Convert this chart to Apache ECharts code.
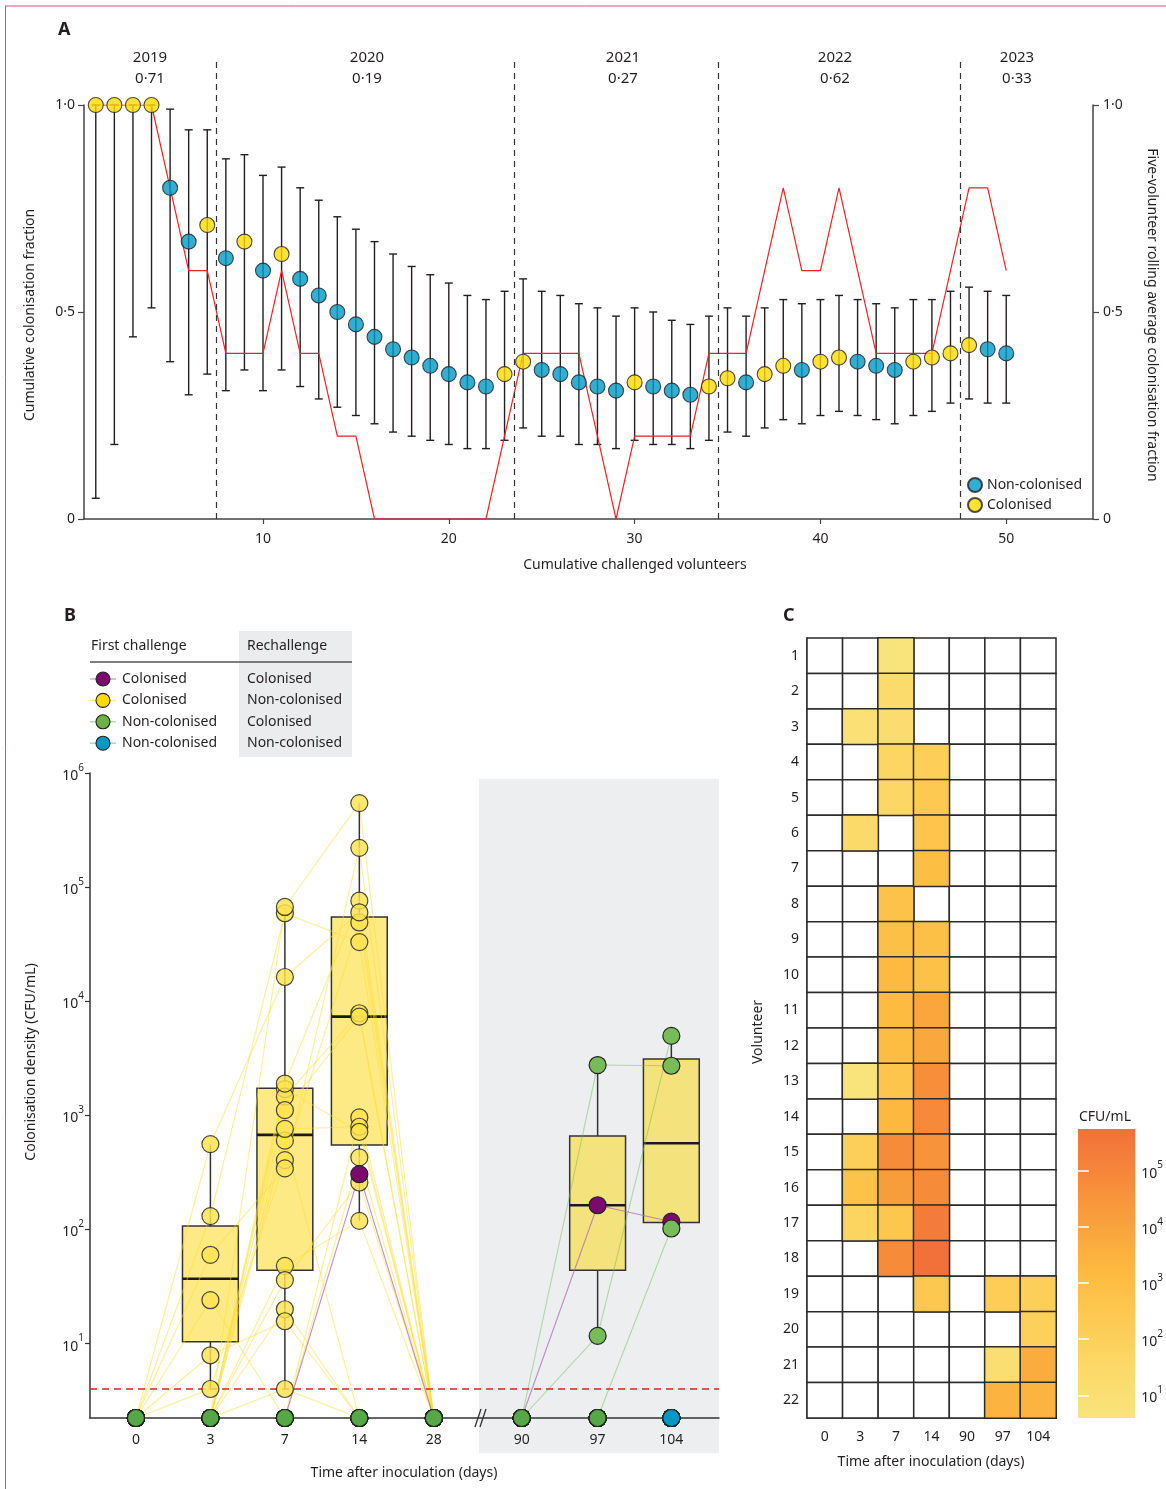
<!DOCTYPE html>
<html><head><meta charset="utf-8">
<script src="https://cdn.jsdelivr.net/npm/echarts@6/dist/echarts.min.js"></script>
<style>html,body{margin:0;padding:0;background:#fff;}#c{width:1166px;height:1489px;}</style>
</head><body><div id="c"></div>
<script>
// ---------------- Panel A data ----------------
const volunteerNo = Array.from({length: 50}, (_, i) => i + 1);
const colonisedOutcome = [1,1,1,1,0,0,1,0,1,0, 1,0,0,0,0,0,0,0,0,0, 0,0,1,1,0,0,0,0,0,1, 0,0,0,1,1,0,1,1,0,1, 1,0,0,0,1,1,1,1,0,0];
const cumFraction = [1.00,1.00,1.00,1.00,0.80,0.67,0.71,0.63,0.67,0.60, 0.64,0.58,0.54,0.50,0.47,0.44,0.41,0.39,0.37,0.35, 0.33,0.32,0.35,0.38,0.36,0.35,0.33,0.32,0.31,0.33, 0.32,0.31,0.30,0.32,0.34,0.33,0.35,0.37,0.36,0.38, 0.39,0.38,0.37,0.36,0.38,0.39,0.40,0.42,0.41,0.40];
const ciLower = [0.05,0.18,0.44,0.51,0.38,0.30,0.35,0.31,0.36,0.31, 0.36,0.32,0.29,0.27,0.25,0.23,0.21,0.20,0.19,0.18, 0.17,0.17,0.19,0.22,0.20,0.20,0.18,0.18,0.17,0.19, 0.18,0.18,0.17,0.19,0.21,0.20,0.22,0.24,0.23,0.25, 0.26,0.25,0.24,0.23,0.25,0.26,0.28,0.29,0.28,0.28];
const ciUpper = [1.00,1.00,1.00,1.00,0.99,0.94,0.94,0.87,0.88,0.83, 0.85,0.80,0.77,0.73,0.70,0.67,0.64,0.61,0.59,0.57, 0.54,0.53,0.55,0.58,0.55,0.54,0.52,0.51,0.49,0.51, 0.50,0.48,0.47,0.49,0.51,0.49,0.51,0.53,0.52,0.53, 0.54,0.53,0.52,0.51,0.53,0.53,0.55,0.56,0.55,0.54];
const rollingFive = [1,1,1,1,0.8,0.6,0.6,0.4,0.4,0.4, 0.6,0.4,0.4,0.2,0.2,0,0,0,0,0, 0,0,0.2,0.4,0.4,0.4,0.4,0.2,0,0.2, 0.2,0.2,0.2,0.4,0.4,0.4,0.6,0.8,0.6,0.6, 0.8,0.6,0.4,0.4,0.4,0.4,0.6,0.8,0.8,0.6];
const yearNames = ['2019','2020','2021','2022','2023'];
const yearRates = ['0·71','0·19','0·27','0·62','0·33'];
const yearBoundaries = [7.5, 23.5, 34.5, 47.5];
const axisAXTicks = [10,20,30,40,50];
const axisAYTicks = [0,0.5,1];

// ---------------- Panel B / C data (CFU/mL, 0 = not detected), volunteers 1..22 ----------------
const allDays = ['0','3','7','14','28','90','97','104'];
const dayAxisPos = [0,1,2,3,4,5.18,6.2,7.19];
const cfuDay0  = [0,0,0,0,0,0,0,0,0,0,0,0,0,0,0,0,0,0,0,0,0,0];
const cfuDay3  = [0,0,7.9,0,0,24,0,0,0,0,0,0,4,0,131,560,60,0,0,0,0,0];
const cfuDay7  = [4,20,15.7,48,36,0,0,600,760,1700,1460,1110,405,1900,59000,16300,343,67000,0,0,0,0];
const cfuDay14 = [0,0,0,119,258,428,960,0,795,718,7850,7330,49000,76000,33000,60000,221000,545000,305,0,0,0];
const cfuDay28 = [0,0,0,0,0,0,0,0,0,0,0,0,0,0,0,0,0,0,0,0,0,0];
const cfuDay90 = [0,0,0,0,0,0,0,0,0,0,0,0,0,0,0,0,0,0,0,0,0,0];
const cfuDay97 = [0,0,0,0,0,0,0,0,0,0,0,0,0,0,0,0,0,0,163,0,11.7,2760];
const cfuDay104= [0,0,0,0,0,0,0,0,0,0,0,0,0,0,0,0,0,0,117,102,4970,2720];
const volunteerGroup = ['CN','CN','CN','CN','CN','CN','CN','CN','CN','CN','CN','CN','CN','CN','CN','CN','CN','CN','CC','NC','NC','NC'];
const bothNonColonisedCFU = [0,0,0,0,0,0,0,0];
const boxDays   = ['3','7','14','97','104'];
const boxLow    = [4, 4, 119, 11.7, 102];
const boxQ1     = [10.4, 44, 550, 44, 115];
const boxMedian = [37, 675, 7330, 163, 570];
const boxQ3     = [107, 1725, 54600, 660, 3120];
const boxHigh   = [560, 67000, 545000, 2760, 4970];
const detectionLimit = 4;
const axisBYTicks = [1,2,3,4,5,6];
const heatDays = ['0','3','7','14','90','97','104'];
const heatVolunteers = Array.from({length: 22}, (_, i) => String(i + 1));
const colourbarTicks = [1,2,3,4,5];

// ---------------- styling ----------------
const FONT = "'Noto Sans', 'DejaVu Sans', sans-serif";
const TXT = '#231f20';
const BLUE = '#0098c4', YELLOW = '#ffdb00', RED = '#ec2227';
const C_CN = '#fde34f', C_CC = '#7c0a6e', C_NC = '#78bc58', C_NN = '#0098c4', C_NC0 = '#55a845';
const LINE_COL = {CN: 'rgba(253,222,50,0.5)', CC: 'rgba(170,110,180,0.75)', NC: 'rgba(120,190,90,0.5)'};
const heatColors = ['#f9e47c','#fcd968','#fdcb53','#fdbb40','#f9a23c','#f6893a','#f2703a'];
const LOGMIN = 0.596, LOGMAX = 5.74;
const ZERO_LOG = 0.348;
const B_XMIN = -0.617, B_XMAX = 7.83;
const toLog = v => v > 0 ? Math.log10(v) : ZERO_LOG;
const supRich = {
  b: {fontSize: 14, color: TXT, fontFamily: FONT, lineHeight: 20, verticalAlign: 'bottom'},
  s: {fontSize: 10, color: TXT, fontFamily: FONT, lineHeight: 20, verticalAlign: 'top'}
};
const powFmt = v => '{b|10}{s|' + Math.round(v) + '}';
const decFmt = v => v === 0 ? '0' : v.toFixed(1).replace('.', '·');

// ---------------- derived series data ----------------
const cfuByDay = [cfuDay0, cfuDay3, cfuDay7, cfuDay14, cfuDay28, cfuDay90, cfuDay97, cfuDay104];
const ptsA_non = [], ptsA_col = [], errA = [], rollA = [];
volunteerNo.forEach((n, i) => {
  (colonisedOutcome[i] ? ptsA_col : ptsA_non).push([n, cumFraction[i]]);
  errA.push([n, ciLower[i], ciUpper[i]]);
  rollA.push([n, rollingFive[i]]);
});

const nonZero = {CN: [], CC: [], NC: []};
const zeros = {CN: [], CC: [], NN: [], NC: []};
const segments = [];
for (let v = 0; v < 22; v++) {
  const g = volunteerGroup[v];
  for (let d = 0; d < allDays.length; d++) {
    const val = cfuByDay[d][v];
    const pt = [dayAxisPos[d], toLog(val)];
    if (val > 0) nonZero[g].push(pt); else zeros[g].push(pt);
    const sameBlock = (d < 4) || (d >= 5 && d < 7);
    if (sameBlock) {
      const nv = cfuByDay[d + 1][v];
      if (val > 0 || nv > 0) segments.push([dayAxisPos[d], toLog(val), dayAxisPos[d + 1], toLog(nv), g]);
    }
  }
}
bothNonColonisedCFU.forEach((val, d) => zeros.NN.push([dayAxisPos[d], toLog(val)]));

const boxData = boxDays.map((d, i) => [dayAxisPos[allDays.indexOf(d)], toLog(boxLow[i]), toLog(boxQ1[i]), toLog(boxMedian[i]), toLog(boxQ3[i]), toLog(boxHigh[i]), Number(d) > 28 ? 1 : 0]);
const lodLine = [[B_XMIN, Math.log10(detectionLimit)], [B_XMAX, Math.log10(detectionLimit)]];

const heatCols = [cfuDay0, cfuDay3, cfuDay7, cfuDay14, cfuDay90, cfuDay97, cfuDay104];
const heatData = [], cellData = [];
heatCols.forEach((col, x) => col.forEach((val, y) => {
  cellData.push([x, y]);
  if (val > 0) heatData.push([x, y, Math.log10(val)]);
}));

// ---------------- render helpers ----------------
function renderErr(params, api) {
  const x = api.value(0);
  const lo = api.coord([x, api.value(1)]);
  const hi = api.coord([x, api.value(2)]);
  const st = {stroke: '#231f20', lineWidth: 1.4};
  return {type: 'group', children: [
    {type: 'line', shape: {x1: lo[0], y1: lo[1], x2: hi[0], y2: hi[1]}, style: st},
    {type: 'line', shape: {x1: lo[0] - 4, y1: lo[1], x2: lo[0] + 4, y2: lo[1]}, style: st},
    {type: 'line', shape: {x1: hi[0] - 4, y1: hi[1], x2: hi[0] + 4, y2: hi[1]}, style: st}
  ]};
}
function renderBox(params, api) {
  const x = api.value(0);
  const pLow = api.coord([x, api.value(1)]);
  const pQ1 = api.coord([x, api.value(2)]);
  const pMed = api.coord([x, api.value(3)]);
  const pQ3 = api.coord([x, api.value(4)]);
  const pHigh = api.coord([x, api.value(5)]);
  const w = api.size([0.75, 0])[0];
  const fill = api.value(6) ? '#f4e27c' : 'rgba(254,230,110,0.85)';
  const st = {stroke: '#333', lineWidth: 1.5};
  return {type: 'group', children: [
    {type: 'line', shape: {x1: pLow[0], y1: pLow[1], x2: pQ1[0], y2: pQ1[1]}, style: st},
    {type: 'line', shape: {x1: pQ3[0], y1: pQ3[1], x2: pHigh[0], y2: pHigh[1]}, style: st},
    {type: 'rect', shape: {x: pQ1[0] - w / 2, y: pQ3[1], width: w, height: pQ1[1] - pQ3[1]}, style: {fill: fill, stroke: '#333', lineWidth: 1.5}},
    {type: 'line', shape: {x1: pMed[0] - w / 2, y1: pMed[1], x2: pMed[0] + w / 2, y2: pMed[1]}, style: {stroke: '#1a1a1a', lineWidth: 2.6}}
  ]};
}
function renderSeg(params, api) {
  const a = api.coord([api.value(0), api.value(1)]);
  const b = api.coord([api.value(2), api.value(3)]);
  const g = segments[params.dataIndex][4];
  return {type: 'line', shape: {x1: a[0], y1: a[1], x2: b[0], y2: b[1]}, style: {stroke: LINE_COL[g], lineWidth: 1.1}};
}
function renderCell(params, api) {
  const c = api.coord([api.value(0), api.value(1)]);
  const s = api.size([1, 1]);
  return {type: 'rect', shape: {x: c[0] - s[0] / 2, y: c[1] - s[1] / 2, width: s[0], height: s[1]},
          style: {fill: '#ffffff', stroke: '#2b2b2b', lineWidth: 1.5}};
}

const ptStyleA = c => ({color: c, borderColor: '#231f20', borderWidth: 1.1});
const ptStyleB = (c, op) => ({color: c, opacity: op, borderColor: '#222', borderWidth: 1.2});
const axisTxt = {color: TXT, fontSize: 14, fontFamily: FONT};

// ---------------- option ----------------
const option = {
  animation: false,
  backgroundColor: '#fff',
  textStyle: {fontFamily: FONT},
  grid: [
    {left: 84, right: 73, top: 105, bottom: 970},
    {left: 84, right: 73, top: 57, bottom: 970},
    {left: 90, right: 447, top: 773, bottom: 71},
    {left: 807, right: 110, top: 638, bottom: 71},
    {left: 1078, width: 58, top: 1129, height: 289, show: true, borderWidth: 0,
     backgroundColor: new echarts.graphic.LinearGradient(0, 0, 0, 1, heatColors.slice().reverse().map((c, i, arr) => ({offset: i / (arr.length - 1), color: c})))}
  ],
  xAxis: [
    {gridIndex: 0, type: 'value', min: 0.366, max: 54.67, splitLine: {show: false},
     axisLine: {lineStyle: {color: '#444', width: 1.5}},
     axisTick: {customValues: axisAXTicks, length: 5, lineStyle: {color: '#444', width: 1.2}},
     axisLabel: {customValues: axisAXTicks, margin: 13, ...axisTxt}},
    {gridIndex: 1, type: 'value', min: 0.366, max: 54.67, show: false},
    {gridIndex: 2, type: 'value', min: B_XMIN, max: B_XMAX, splitLine: {show: false},
     axisLine: {onZero: false, lineStyle: {color: '#333', width: 1.5}}, axisTick: {show: false},
     axisLabel: {customValues: dayAxisPos, margin: 15, ...axisTxt,
       formatter: v => allDays[dayAxisPos.findIndex(p => Math.abs(p - v) < 0.01)]}},
    {gridIndex: 3, type: 'category', data: heatDays, axisLine: {lineStyle: {color: '#333', width: 1.5}},
     axisTick: {alignWithLabel: true, length: 5, lineStyle: {color: '#333', width: 1.2}},
     axisLabel: {margin: 12, ...axisTxt}},
    {gridIndex: 4, type: 'value', min: 0, max: 1, show: false}
  ],
  yAxis: [
    {gridIndex: 0, type: 'value', min: 0, max: 1, splitLine: {show: false},
     axisLine: {show: true, onZero: false, lineStyle: {color: '#444', width: 1.5}},
     axisTick: {show: true, customValues: axisAYTicks, length: 6, lineStyle: {color: '#444', width: 1.2}},
     axisLabel: {customValues: axisAYTicks, formatter: decFmt, margin: 9, ...axisTxt}},
    {gridIndex: 0, type: 'value', position: 'right', min: 0, max: 1, splitLine: {show: false},
     axisLine: {show: true, onZero: false, lineStyle: {color: '#444', width: 1.5}},
     axisTick: {show: true, customValues: axisAYTicks, length: 6, lineStyle: {color: '#444', width: 1.2}},
     axisLabel: {customValues: axisAYTicks, formatter: decFmt, margin: 10, ...axisTxt}},
    {gridIndex: 1, type: 'value', min: 0, max: 1, show: false},
    {gridIndex: 2, type: 'value', min: ZERO_LOG, max: 6, splitLine: {show: false},
     axisLine: {show: true, onZero: false, lineStyle: {color: '#333', width: 1.5}},
     axisTick: {show: true, customValues: axisBYTicks, length: 5, lineStyle: {color: '#333', width: 1.2}},
     axisLabel: {customValues: axisBYTicks, formatter: powFmt, rich: supRich, margin: 6}},
    {gridIndex: 3, type: 'category', data: heatVolunteers, inverse: true,
     axisLine: {lineStyle: {color: '#333', width: 1.5}},
     axisTick: {alignWithLabel: true, length: 6, lineStyle: {color: '#333', width: 1.2}},
     axisLabel: {margin: 8, ...axisTxt}},
    {gridIndex: 4, type: 'value', position: 'right', min: LOGMIN, max: LOGMAX, splitLine: {show: false},
     axisLine: {show: false},
     axisTick: {show: true, inside: true, customValues: colourbarTicks, length: 11, lineStyle: {color: '#fff', width: 1.5}},
     axisLabel: {customValues: colourbarTicks, formatter: powFmt, rich: supRich, margin: 6}},
    {gridIndex: 4, type: 'value', position: 'left', min: LOGMIN, max: LOGMAX, splitLine: {show: false},
     axisLine: {show: false},
     axisTick: {show: true, inside: true, customValues: colourbarTicks, length: 11, lineStyle: {color: '#fff', width: 1.5}},
     axisLabel: {show: false}}
  ],
  visualMap: {show: false, type: 'continuous', seriesIndex: 16, dimension: 2, min: LOGMIN, max: LOGMAX,
    inRange: {color: heatColors}},
  legend: {data: ['Non-colonised', 'Colonised'], orient: 'vertical', left: 962, top: 472,
    itemWidth: 14, itemHeight: 14, itemGap: 4, icon: 'circle',
    textStyle: {color: TXT, fontSize: 14, fontFamily: FONT}},
  series: [
    // 0 panel A error bars
    {type: 'custom', xAxisIndex: 0, yAxisIndex: 0, renderItem: renderErr, data: errA, encode: {x: 0, y: [1, 2]}, z: 2, silent: true},
    // 1 rolling average
    {type: 'line', name: 'Rolling', xAxisIndex: 0, yAxisIndex: 1, data: rollA, showSymbol: false, symbol: 'none',
     lineStyle: {color: RED, width: 1.2}, z: 3, silent: true},
    // 2,3 points
    {type: 'scatter', name: 'Non-colonised', xAxisIndex: 0, yAxisIndex: 0, data: ptsA_non, symbolSize: 15, itemStyle: ptStyleA(BLUE), z: 4},
    {type: 'scatter', name: 'Colonised', xAxisIndex: 0, yAxisIndex: 0, data: ptsA_col, symbolSize: 15, itemStyle: ptStyleA(YELLOW), z: 4},
    // 4 year boundaries
    {type: 'line', xAxisIndex: 1, yAxisIndex: 2, data: [], silent: true,
     markLine: {silent: true, symbol: 'none', label: {show: false},
       lineStyle: {color: '#333', type: [6, 5], width: 1.2},
       data: yearBoundaries.map(x => ({xAxis: x}))}},
    // 5 panel B boxes
    {type: 'custom', xAxisIndex: 2, yAxisIndex: 3, renderItem: renderBox, data: boxData, encode: {x: 0, y: [1, 2, 3, 4, 5]}, z: 2, silent: true},
    // 6 connecting lines
    {type: 'custom', xAxisIndex: 2, yAxisIndex: 3, renderItem: renderSeg, data: segments.map(s => s.slice(0, 4)), encode: {x: [0, 2], y: [1, 3]}, z: 3, silent: true},
    // 7 detection limit
    {type: 'line', xAxisIndex: 2, yAxisIndex: 3, data: lodLine, silent: true, showSymbol: false, symbol: 'none',
     lineStyle: {color: '#e31e24', type: [7, 5], width: 1.4, opacity: 1}, z: 3},
    // 8-10 non-zero points
    {type: 'scatter', xAxisIndex: 2, yAxisIndex: 3, data: nonZero.CN, symbolSize: 17, itemStyle: ptStyleB(C_CN, 0.82), z: 4},
    {type: 'scatter', xAxisIndex: 2, yAxisIndex: 3, data: nonZero.CC, symbolSize: 17, itemStyle: ptStyleB(C_CC, 1), z: 5},
    {type: 'scatter', xAxisIndex: 2, yAxisIndex: 3, data: nonZero.NC, symbolSize: 17, itemStyle: ptStyleB(C_NC, 1), z: 5},
    // 11-14 zero points at baseline
    {type: 'scatter', xAxisIndex: 2, yAxisIndex: 3, data: zeros.CN, symbolSize: 17, clip: false, itemStyle: ptStyleB(C_CN, 1), z: 6},
    {type: 'scatter', xAxisIndex: 2, yAxisIndex: 3, data: zeros.CC, symbolSize: 17, clip: false, itemStyle: ptStyleB(C_CC, 1), z: 6},
    {type: 'scatter', xAxisIndex: 2, yAxisIndex: 3, data: zeros.NN, symbolSize: 17, clip: false, itemStyle: ptStyleB(C_NN, 1), z: 6},
    {type: 'scatter', xAxisIndex: 2, yAxisIndex: 3, data: zeros.NC, symbolSize: 17, clip: false, itemStyle: ptStyleB(C_NC0, 1), z: 6},
    // 15 heatmap empty cells
    {type: 'custom', xAxisIndex: 3, yAxisIndex: 4, renderItem: renderCell, data: cellData, z: 1, silent: true},
    // 16 heatmap coloured cells
    {type: 'heatmap', xAxisIndex: 3, yAxisIndex: 4, data: heatData, z: 2,
     itemStyle: {borderColor: '#2b2b2b', borderWidth: 1.5}, emphasis: {disabled: true}},
    // 17 colourbar placeholder
    {type: 'line', xAxisIndex: 4, yAxisIndex: 5, data: [], silent: true}
  ],
  graphic: [
    // panel B grey rechallenge area
    {type: 'rect', z: -1, shape: {x: 479, y: 779, width: 240, height: 674}, style: {fill: '#edeef0'}},
    // legend B
    {type: 'rect', z: -1, shape: {x: 239, y: 631, width: 113, height: 126}, style: {fill: '#ebecee'}},
    {type: 'text', x: 91, y: 646, style: {text: 'First challenge', fill: TXT, font: '14px ' + FONT, verticalAlign: 'middle'}},
    {type: 'text', x: 247, y: 646, style: {text: 'Rechallenge', fill: TXT, font: '14px ' + FONT, verticalAlign: 'middle'}},
    {type: 'line', shape: {x1: 90, y1: 662, x2: 352, y2: 662}, style: {stroke: '#555', lineWidth: 1.5}},
    ...[['Colonised', 'Colonised', C_CC, '#d9a6d2'], ['Colonised', 'Non-colonised', YELLOW, '#fbe89a'],
        ['Non-colonised', 'Colonised', '#6db043', '#b9dca5'], ['Non-colonised', 'Non-colonised', C_NN, '#9fd6e6']]
      .flatMap((r, i) => {
        const y = 679 + i * 21.4;
        return [
          {type: 'line', shape: {x1: 90, y1: y, x2: 116, y2: y}, style: {stroke: r[3], lineWidth: 1.5}},
          {type: 'circle', shape: {cx: 103, cy: y, r: 7}, style: {fill: r[2], stroke: '#222', lineWidth: 1.1}},
          {type: 'text', x: 122, y: y, style: {text: r[0], fill: TXT, font: '14px ' + FONT, verticalAlign: 'middle'}},
          {type: 'text', x: 247, y: y, style: {text: r[1], fill: TXT, font: '14px ' + FONT, verticalAlign: 'middle'}}
        ];
      }),
    // axis break
    {type: 'line', shape: {x1: 475, y1: 1427, x2: 481, y2: 1409}, style: {stroke: '#333', lineWidth: 1.3}},
    {type: 'line', shape: {x1: 480, y1: 1427, x2: 486, y2: 1409}, style: {stroke: '#333', lineWidth: 1.3}},
    // panel letters
    {type: 'text', x: 58, y: 30, style: {text: 'A', fill: TXT, font: 'bold 18px ' + FONT, verticalAlign: 'middle'}},
    {type: 'text', x: 64, y: 616, style: {text: 'B', fill: TXT, font: 'bold 18px ' + FONT, verticalAlign: 'middle'}},
    {type: 'text', x: 783, y: 616, style: {text: 'C', fill: TXT, font: 'bold 18px ' + FONT, verticalAlign: 'middle'}},
    // year labels
    ...[150, 367, 623, 835, 1017].flatMap((x, i) => [
      {type: 'text', x: x, y: 58, style: {text: yearNames[i], fill: TXT, font: '15px ' + FONT, align: 'center', verticalAlign: 'middle'}},
      {type: 'text', x: x, y: 79, style: {text: yearRates[i], fill: TXT, font: '15px ' + FONT, align: 'center', verticalAlign: 'middle'}}
    ]),
    // axis names
    {type: 'text', x: 635, y: 565, style: {text: 'Cumulative challenged volunteers', fill: TXT, font: '14px ' + FONT, align: 'center', verticalAlign: 'middle'}},
    {type: 'text', x: 30, y: 315, rotation: Math.PI / 2, style: {text: 'Cumulative colonisation fraction', fill: TXT, font: '14px ' + FONT, align: 'center', verticalAlign: 'middle'}},
    {type: 'text', x: 1152, y: 315, rotation: -Math.PI / 2, style: {text: 'Five-volunteer rolling average colonisation fraction', fill: TXT, font: '14px ' + FONT, align: 'center', verticalAlign: 'middle'}},
    {type: 'text', x: 31, y: 1062, rotation: Math.PI / 2, style: {text: 'Colonisation density (CFU/mL)', fill: TXT, font: '14px ' + FONT, align: 'center', verticalAlign: 'middle'}},
    {type: 'text', x: 404, y: 1473, style: {text: 'Time after inoculation (days)', fill: TXT, font: '14px ' + FONT, align: 'center', verticalAlign: 'middle'}},
    {type: 'text', x: 931, y: 1462, style: {text: 'Time after inoculation (days)', fill: TXT, font: '14px ' + FONT, align: 'center', verticalAlign: 'middle'}},
    {type: 'text', x: 758, y: 1032, rotation: Math.PI / 2, style: {text: 'Volunteer', fill: TXT, font: '14px ' + FONT, align: 'center', verticalAlign: 'middle'}},
    {type: 'text', x: 1105, y: 1117, style: {text: 'CFU/mL', fill: TXT, font: '14px ' + FONT, align: 'center', verticalAlign: 'middle'}},
    // page frame
    {type: 'line', shape: {x1: 5, y1: 6, x2: 1166, y2: 6}, style: {stroke: '#d9507f', lineWidth: 1}},
    {type: 'line', shape: {x1: 5.5, y1: 6, x2: 5.5, y2: 1489}, style: {stroke: '#d9507f', lineWidth: 1}}
  ]
};
const chart = echarts.init(document.getElementById('c'), null, {renderer: 'canvas'});
chart.setOption(option);
</script>
</body></html>
